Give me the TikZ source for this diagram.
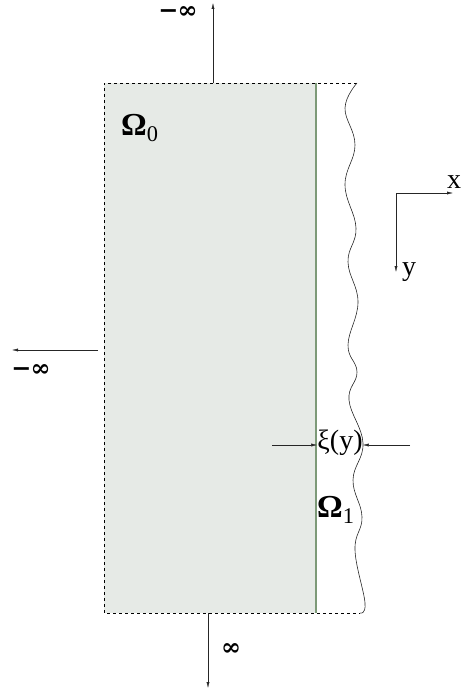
\documentclass[tikz,border=0pt]{standalone}
\usepackage{fontspec}
\setmainfont{Liberation Serif}
\newfontfamily\inffont{DejaVu Serif}
\usetikzlibrary{arrows.meta}

\begin{document}
\begin{tikzpicture}[x=1pt,y=-1pt]
            \colorlet{colFill}{green!8!gray!18}
            \definecolor{colEdge}{HTML}{7D9A78}

            \tikzset{
                arr/.style={-{Latex[length=6pt,width=3pt]}, thin, black!85},
                lbl/.style={inner sep=0pt, font=\fontsize{28}{32}\selectfont},
                omg/.style={inner sep=0pt, font=\fontsize{32}{36}\selectfont},
                inf/.style={inner sep=0pt, font=\fontsize{24}{28}\selectfont\inffont\bfseries}
            }

            \useasboundingbox (0,0) rectangle (461,690);

            % Corners of the strip
            \coordinate (tl) at (104,83);
            \coordinate (tr) at (316,83);
            \coordinate (bl) at (104,613);
            \coordinate (br) at (316,613);
            \coordinate (wtop) at (357,83);
            \coordinate (wbot) at (360,613);

            % Shaded region
            \fill[colFill] (tl) rectangle (br);
            \draw[dashed, thin] (wtop) -- (tl) -- (bl) -- (wbot);
            \draw[colEdge, line width=1.6pt] (tr) -- (br);

            % Wavy free boundary
            \draw[semithick, black!85] plot[smooth, tension=0.7] coordinates {
                (wtop) (345,108) (355,145) (345,185) (356,228) (348,262)
                (358,302) (348,345) (357,372) (349,400) (363,443)
                (353,480) (362,517) (355,550) (365,603) (wbot)};

            % Arrows to infinity
            \coordinate (upS) at (213,83);
            \coordinate (upE) at (213,3);
            \coordinate (dnS) at (208,613);
            \coordinate (dnE) at (208,688);
            \coordinate (lfS) at (98,350);
            \coordinate (lfE) at (12,350);
            \draw[arr] (upS) -- (upE);
            \draw[arr] (dnS) -- (dnE);
            \draw[arr] (lfS) -- (lfE);

            \node[inf] (minfTop) at (178,13) {−\kern-1pt∞};
            \node[inf] (infBot) at (231,650) {∞};
            \node[inf] (minfLeft) at (31,371) {−\kern-1pt∞};

            % Domain labels
            \node[omg, anchor=west] (om0) at (121,128) {\textbf{Ω}\textsubscript{0}};
            \node[omg, anchor=west] (om1) at (317,510) {\textbf{Ω}\textsubscript{1}};

            % Axes
            \coordinate (orig) at (396,193);
            \coordinate (xEnd) at (453,193);
            \coordinate (yEnd) at (396,272);
            \draw[arr] (orig) -- (xEnd);
            \draw[arr] (orig) -- (yEnd);
            \node[lbl] (xlab) at (454,182) {x};
            \node[lbl] (ylab) at (409,272) {y};

            % Perturbation width
            \node[lbl] (xi) at (340,443) {ξ(y)};
            \coordinate (xiL) at (272,445);
            \coordinate (xiR) at (410,445);
            \draw[arr] (xiL) -- (xiL -| xi.west);
            \draw[arr] (xiR) -- (xiR -| xi.east);
\end{tikzpicture}
\end{document}
